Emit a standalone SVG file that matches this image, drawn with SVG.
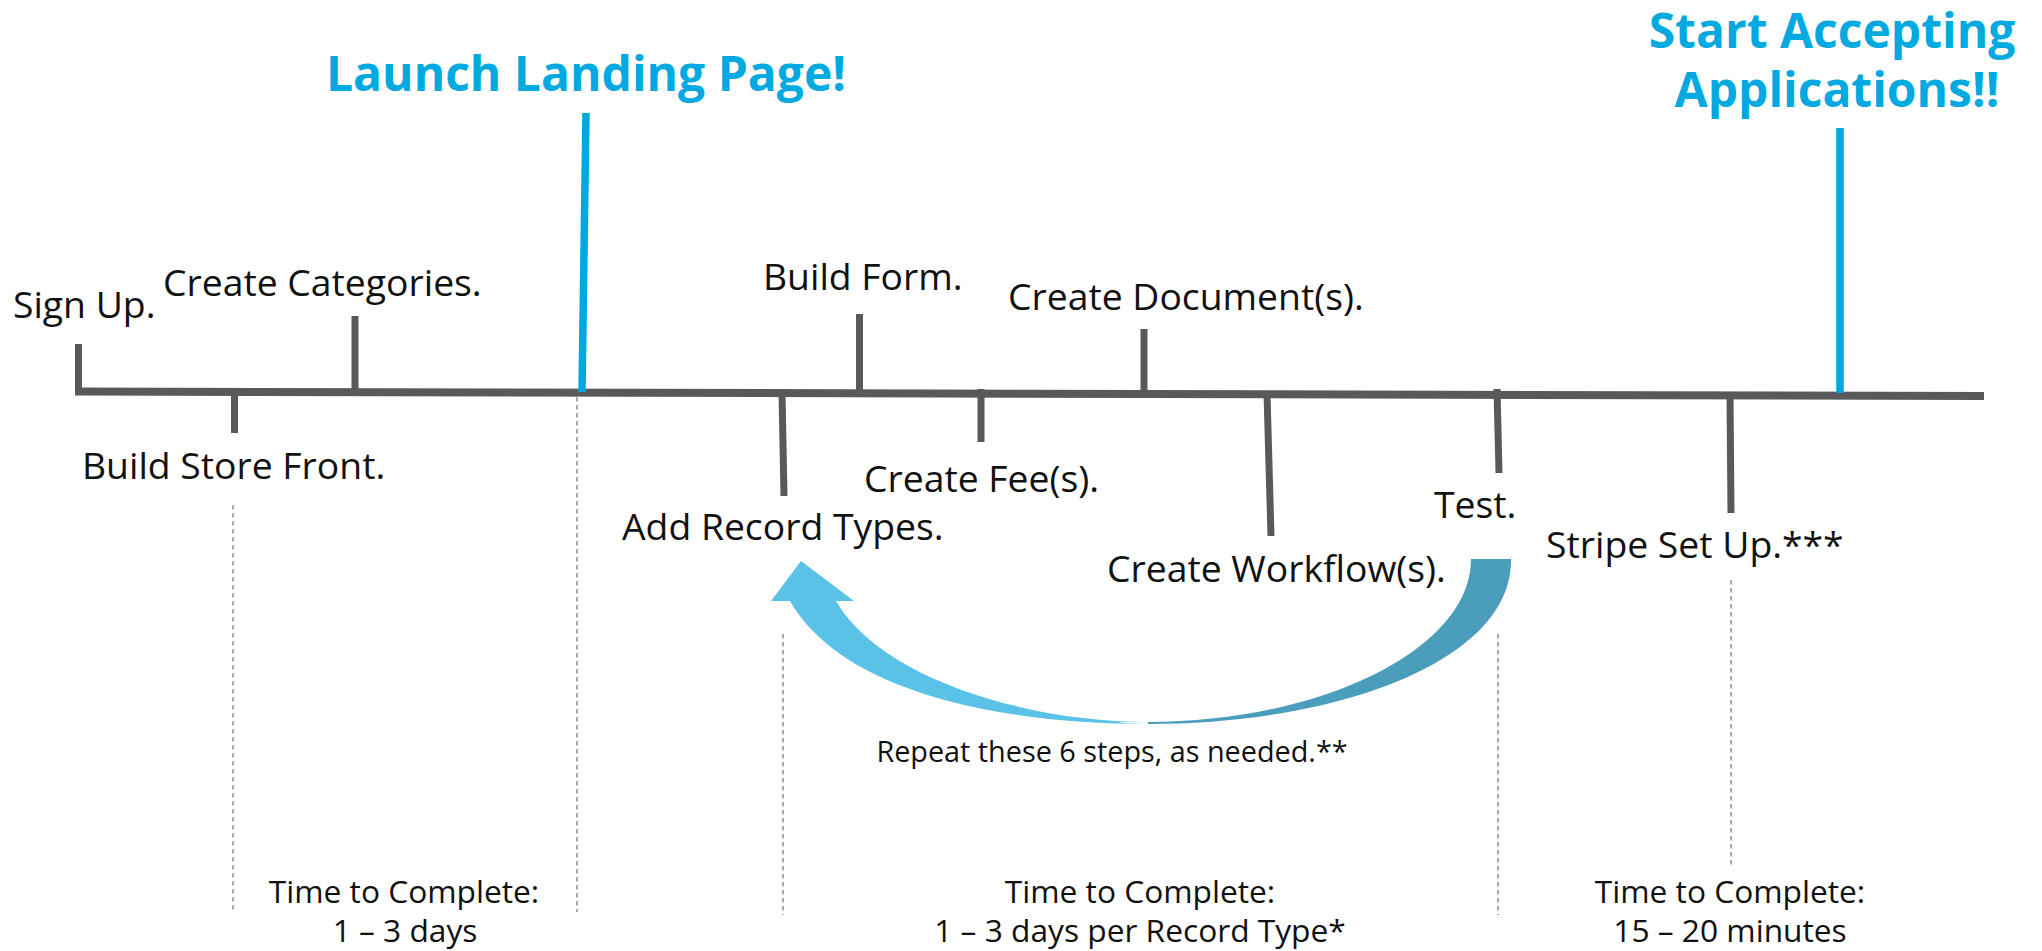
<svg xmlns="http://www.w3.org/2000/svg" width="2042" height="951" viewBox="0 0 2042 951">
<style>
.lbl{font-family:"Open Sans","Liberation Sans",sans-serif;font-size:37.3px;fill:#111}
.mile{font-family:"Open Sans","Liberation Sans",sans-serif;font-size:48px;font-weight:bold;fill:#00A9E0}
.small{font-family:"Open Sans","Liberation Sans",sans-serif;font-size:31.7px;fill:#111}
.note{font-family:"Open Sans","Liberation Sans",sans-serif;font-size:28.8px;fill:#111}
.tick{stroke:#595959;stroke-width:7;fill:none}
.blue{stroke:#00A9E0;stroke-width:7.5;fill:none}
.dash{stroke:#8a8a8a;stroke-width:1.4;stroke-dasharray:4.5 3.5;fill:none}
</style>
<rect width="2042" height="951" fill="#fff"/>
<g id="connectors">
  <line class="dash" x1="233" y1="505" x2="233" y2="912"/>
  <line class="dash" x1="577" y1="397" x2="577" y2="912"/>
  <line class="dash" x1="783" y1="634" x2="783" y2="915"/>
  <line class="dash" x1="1498" y1="634" x2="1498" y2="915"/>
  <line class="dash" x1="1731" y1="580" x2="1731" y2="866"/>
  <line id="timeline" x1="75" y1="391.5" x2="1984" y2="396" stroke="#595959" stroke-width="8"/>
  <g id="repeat-arrow">
    <path d="M790,601 C842,692 1000,724 1148,724 C1118,723 1100,722 1148,722 C1030,722 882,680 836,601 L854,601 L801,561 L771,601 Z" fill="#5BC2E7"/>
    <path d="M1148,724 C1340,724 1513,660 1511,559 L1471,559 C1471,650 1320,722 1148,722 Z" fill="#4A9DBB"/>
  </g>
</g>
<g id="launch">
  <line class="blue" x1="586" y1="113" x2="582" y2="392"/>
  <text class="mile" x="586" y="91" text-anchor="middle">Launch Landing Page!</text>
</g>
<g id="start-accepting">
  <line class="blue" x1="1840" y1="128" x2="1840" y2="393"/>
  <text class="mile" x="1832" y="48" text-anchor="middle">Start Accepting</text>
  <text class="mile" x="1837" y="107" text-anchor="middle">Applications!!</text>
</g>
<g id="sign-up">
  <line class="tick" x1="78.5" y1="344" x2="78.5" y2="393"/>
  <text class="lbl" x="13" y="318">Sign Up.</text>
</g>
<g id="build-store-front">
  <line class="tick" x1="234.5" y1="391" x2="234.5" y2="433"/>
  <text class="lbl" x="82" y="479">Build Store Front.</text>
</g>
<g id="create-categories">
  <line class="tick" x1="355" y1="316" x2="355" y2="392"/>
  <text class="lbl" x="163" y="296">Create Categories.</text>
</g>
<g id="add-record-types">
  <line class="tick" x1="782" y1="393" x2="784" y2="496"/>
  <text class="lbl" x="622" y="540">Add Record Types.</text>
</g>
<g id="build-form">
  <line class="tick" x1="859.5" y1="314" x2="859.5" y2="394"/>
  <text class="lbl" x="763" y="290">Build Form.</text>
</g>
<g id="create-fees">
  <line class="tick" x1="981" y1="389" x2="981" y2="442"/>
  <text class="lbl" x="864" y="492">Create Fee(s).</text>
</g>
<g id="create-documents">
  <line class="tick" x1="1144" y1="329" x2="1144" y2="394"/>
  <text class="lbl" x="1008" y="310">Create Document(s).</text>
</g>
<g id="create-workflows">
  <line class="tick" x1="1267" y1="394" x2="1271" y2="536"/>
  <text class="lbl" x="1107" y="582">Create Workflow(s).</text>
</g>
<g id="test">
  <line class="tick" x1="1497" y1="389" x2="1499" y2="473"/>
  <text class="lbl" x="1434" y="518">Test.</text>
</g>
<g id="stripe">
  <line class="tick" x1="1730" y1="395" x2="1731" y2="513"/>
  <text class="lbl" x="1546" y="558">Stripe Set Up.***</text>
</g>
<g id="repeat-note">
  <text class="note" x="1112" y="762" text-anchor="middle">Repeat these 6 steps, as needed.**</text>
</g>
<g id="time-1">
  <text class="small" x="404" y="903" text-anchor="middle">Time to Complete:</text>
  <text class="small" x="405" y="942" text-anchor="middle">1 – 3 days</text>
</g>
<g id="time-2">
  <text class="small" x="1140" y="903" text-anchor="middle">Time to Complete:</text>
  <text class="small" x="1140" y="942" text-anchor="middle">1 – 3 days per Record Type*</text>
</g>
<g id="time-3">
  <text class="small" x="1730" y="903" text-anchor="middle">Time to Complete:</text>
  <text class="small" x="1730" y="942" text-anchor="middle">15 – 20 minutes</text>
</g>
</svg>
